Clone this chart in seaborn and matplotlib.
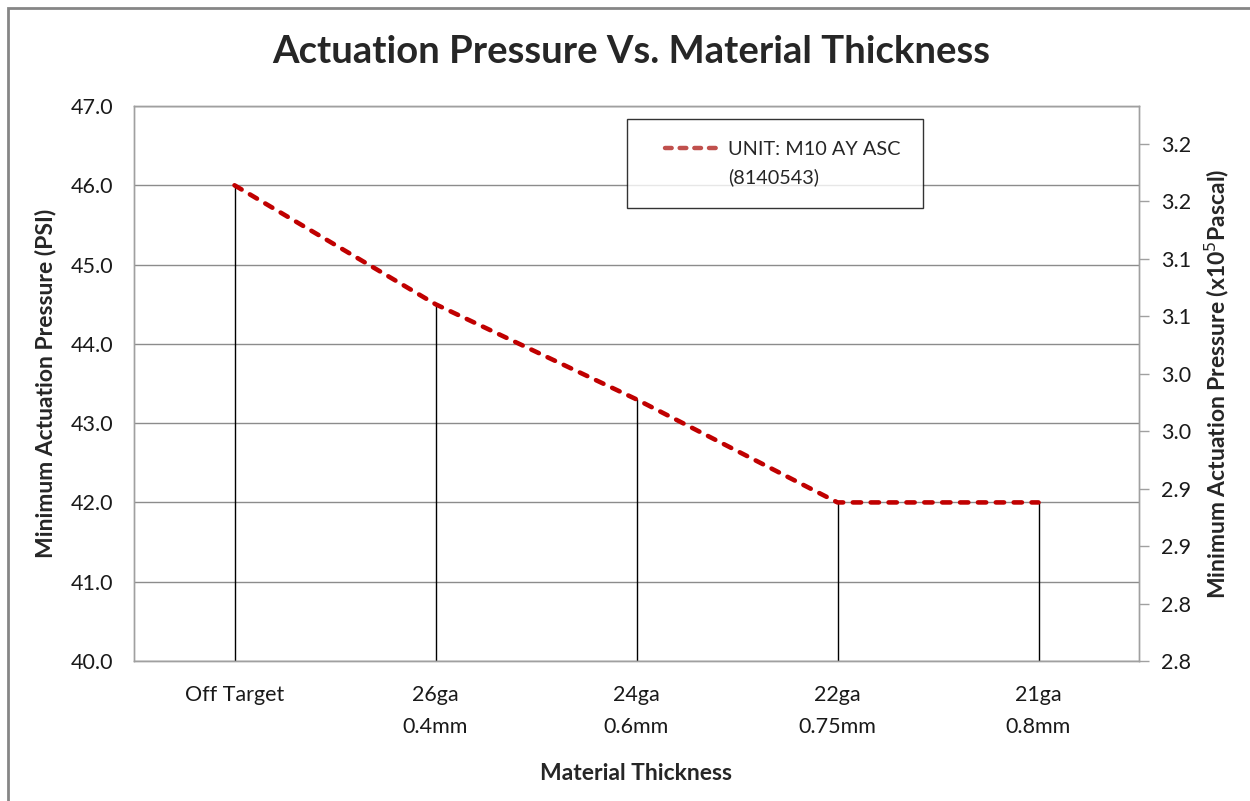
import matplotlib
matplotlib.use("Agg")
import matplotlib.pyplot as plt
import seaborn as sns
import pandas as pd
import numpy as np
from matplotlib.lines import Line2D
from matplotlib.patches import Rectangle
from matplotlib.ticker import FormatStrFormatter, FixedLocator
from matplotlib.legend_handler import HandlerLine2D

categories = ["Off Target", "26ga\n0.4mm", "24ga\n0.6mm", "22ga\n0.75mm", "21ga\n0.8mm"]
pressure_psi = [46.0, 44.5, 43.3, 42.0, 42.0]
series_name = "UNIT: M10 AY ASC\n(8140543)"
psi_to_1e5pa = 0.0689476

sns.set_style("white")
plt.rcParams['font.family'] = ['Lato', 'DejaVu Sans']

W, H = 1250, 801
fig = plt.figure(figsize=(W / 100, H / 100), dpi=100)
ax = fig.add_axes([134 / W, 1 - 661 / H, (1139 - 134) / W, (661 - 106) / H])

df = pd.DataFrame({"x": np.arange(len(categories)), "psi": pressure_psi})

TICK_FS = 15.5
LABEL_FS = 16.5
LEG_FS = 14.3

# drop lines
ax.vlines(df["x"], 40, df["psi"], colors="black", linewidth=1.0, zorder=2)
sns.lineplot(data=df, x="x", y="psi", ax=ax, color="#C00000", linewidth=3.3,
             linestyle=(0, (1.8, 2.1)), dash_capstyle="round", zorder=3)

ax.set_xlim(-0.5, len(categories) - 0.5)
ax.set_ylim(40, 47)
ax.set_yticks(np.arange(40, 48, 1))
ax.yaxis.set_major_formatter(FormatStrFormatter("%.1f"))
ax.set_xticks(df["x"])
ax.set_xticklabels(categories, fontsize=TICK_FS, linespacing=1.75)
ax.grid(axis="y", color="#8c8c8c", linewidth=1.0)
ax.set_axisbelow(True)
ax.tick_params(axis="y", length=0, pad=15, labelsize=TICK_FS, labelcolor="#1a1a1a")
ax.tick_params(axis="x", length=0, pad=17, labelcolor="#1a1a1a")
for s in ax.spines.values():
    s.set_color("#a0a0a0")
    s.set_linewidth(1.0)
ax.set_xlabel("Material Thickness", fontsize=LABEL_FS, fontweight="bold", labelpad=19)
ax.set_ylabel("Minimum Actuation Pressure (PSI)", fontsize=LABEL_FS, fontweight="bold", labelpad=10)

ax2 = ax.twinx()
lo, hi = 40 * psi_to_1e5pa, 47 * psi_to_1e5pa
ax2.set_ylim(lo, hi)
ax2.yaxis.set_major_locator(FixedLocator([lo + 0.05 * k for k in range(10)]))
ax2.yaxis.set_major_formatter(FormatStrFormatter("%.1f"))
ax2.tick_params(axis="y", length=7, width=1.0, color="#a0a0a0", pad=9,
                labelsize=TICK_FS, labelcolor="#1a1a1a")
for s in ax2.spines.values():
    s.set_color("#a0a0a0")
    s.set_linewidth(1.0)
ax2.set_ylabel("Minimum Actuation Pressure (x10$^5$Pascal)", fontsize=LABEL_FS,
               fontweight="bold", labelpad=8)


class OffsetLineHandler(HandlerLine2D):
    def __init__(self, offset_px, **kw):
        super().__init__(**kw)
        self.offset_px = offset_px

    def create_artists(self, legend, orig_handle, xdescent, ydescent, width, height,
                       fontsize, trans):
        arts = super().create_artists(legend, orig_handle, xdescent, ydescent, width,
                                      height, fontsize, trans)
        for a in arts:
            xd = np.array(a.get_xdata(), dtype=float)
            if xd.size > 1:
                xd[0] = xd[0] + self.offset_px
                a.set_xdata(xd)
        return arts


name_lines = series_name.split("\n")
handle = Line2D([0], [0], color="#C0504D", linewidth=3.2, linestyle=(0, (1.5, 1.8)),
                dash_capstyle="round")
blank = Line2D([0], [0], color="none")
leg = ax.legend([handle, blank], name_lines, loc="upper left",
                bbox_to_anchor=((627 - 134) / (1139 - 134), 1 - (119 - 106) / (661 - 106)),
                fontsize=LEG_FS, frameon=True, fancybox=False, edgecolor="black",
                handlelength=3.6, borderpad=1.12, borderaxespad=0, handletextpad=0.36,
                labelspacing=0.5,
                handler_map={handle: OffsetLineHandler(11), blank: HandlerLine2D()})
leg.get_frame().set_linewidth(1.0)
leg.set_zorder(10)

fig.text(631 / W, 1 - 52 / H, "Actuation Pressure Vs. Material Thickness",
         ha="center", va="center", fontsize=27.5, fontweight="bold")

fig.patches.append(Rectangle((8 / W, -0.1), 1.2, 1 - 8 / H + 0.1, transform=fig.transFigure,
                             fill=False, edgecolor="#868686", linewidth=2.0))

fig.savefig("out.png", dpi=100)
